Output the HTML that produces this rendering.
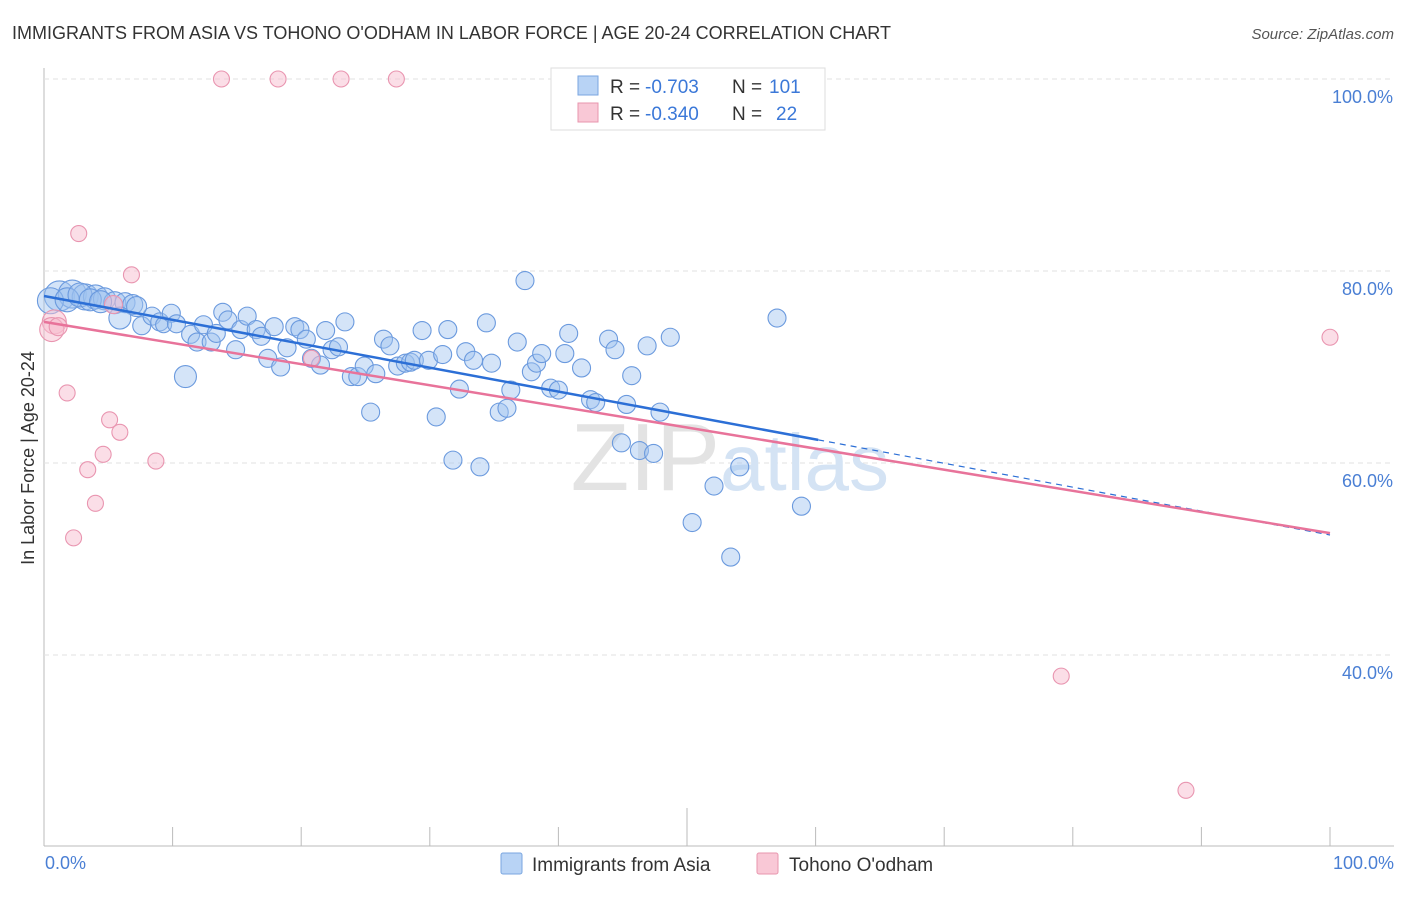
<!DOCTYPE html>
<html><head><meta charset="utf-8"><style>
body{margin:0;background:#fff;font-family:"Liberation Sans",sans-serif}
svg text{font-family:"Liberation Sans",sans-serif}
</style></head><body>
<svg id="chart" width="1406" height="892" xmlns="http://www.w3.org/2000/svg">
<text x="12" y="39" font-size="18" fill="#333">IMMIGRANTS FROM ASIA VS TOHONO O'ODHAM IN LABOR FORCE | AGE 20-24 CORRELATION CHART</text>
<text x="1394" y="39" font-size="15" fill="#555" font-style="italic" text-anchor="end">Source: ZipAtlas.com</text>
<g id="grid"></g>
<text x="720" y="490" font-size="96" fill="#e3e3e3" font-family="Liberation Serif" text-anchor="end">ZIP</text>
<text x="720" y="490" font-size="80" fill="#d4e3f4">atlas</text>
<g id="pts"></g>
<g id="lines"></g>
<text x="34" y="458" font-size="18" fill="#333" text-anchor="middle" transform="rotate(-90 34 458)">In Labor Force | Age 20-24</text>
<text x="45" y="869" font-size="18" fill="#4a7fd4">0.0%</text>
<text x="1394" y="869" font-size="18" fill="#4a7fd4" text-anchor="end">100.0%</text>
<g>
<rect x="551" y="68" width="274" height="62" fill="#fff" stroke="#ddd"/>
<rect x="578" y="76" width="20" height="19" fill="#b8d3f5" stroke="#7aa6e0"/>
<text x="610" y="93" font-size="19" fill="#333">R =</text>
<text x="645" y="93" font-size="19" fill="#3b78d8">-0.703</text>
<text x="732" y="93" font-size="19" fill="#333">N =</text>
<text x="769" y="93" font-size="19" fill="#3b78d8">101</text>
<rect x="578" y="103" width="20" height="19" fill="#f9c8d6" stroke="#e896ae"/>
<text x="610" y="120" font-size="19" fill="#333">R =</text>
<text x="645" y="120" font-size="19" fill="#3b78d8">-0.340</text>
<text x="732" y="120" font-size="19" fill="#333">N =</text>
<text x="776" y="120" font-size="19" fill="#3b78d8">22</text>
</g>
<g>
<rect x="501" y="853" width="21" height="21" fill="#b8d3f5" stroke="#7aa6e0" rx="2"/>
<text x="532" y="871" font-size="19" fill="#333">Immigrants from Asia</text>
<rect x="757" y="853" width="21" height="21" fill="#f9c8d6" stroke="#e896ae" rx="2"/>
<text x="789" y="871" font-size="19" fill="#333">Tohono O'odham</text>
</g>
</svg>
<script>
const yTicks=[100,80,60,40];
const yTickLabels=["100.0%","80.0%","60.0%","40.0%"];
const xTicks=[0,10,20,30,40,50,60,70,80,90,100];
const blueX=[1.2,2.2,3.2,4.0,4.7,5.5,6.3,6.9,5.9,7.6,8.4,9.0,9.3,9.9,10.3,11.0,11.4,11.9,12.4,13.0,13.4,13.9,14.3,14.9,15.3,15.8,16.5,16.9,17.4,17.9,18.4,18.9,19.5,19.9,20.4,20.8,21.5,21.9,22.4,22.9,23.4,23.9,24.4,24.9,25.4,25.8,26.4,26.9,27.5,28.1,28.5,28.8,29.4,29.9,30.5,31.0,31.4,31.8,32.3,32.8,33.4,33.9,34.4,34.8,35.4,36.0,36.3,36.8,37.4,37.9,38.3,38.7,39.4,40.0,40.5,40.8,41.8,42.5,42.9,43.9,44.4,44.9,45.3,45.7,46.3,46.9,47.4,47.9,48.7,50.4,52.1,53.4,54.1,57.0,58.9,0.5,1.8,2.8,3.6,4.4,7.2];
const blueY=[77.4,77.6,77.3,77.3,77.1,76.7,76.7,76.5,75.1,74.3,75.3,74.7,74.4,75.6,74.5,69.0,73.4,72.6,74.4,72.6,73.5,75.7,74.9,71.8,73.9,75.3,73.9,73.2,70.9,74.2,70.0,72.0,74.2,73.9,72.9,70.9,70.2,73.8,71.8,72.1,74.7,69.0,69.0,70.1,65.3,69.3,72.9,72.2,70.1,70.4,70.5,70.7,73.8,70.7,64.8,71.3,73.9,60.3,67.7,71.6,70.7,59.6,74.6,70.4,65.3,65.7,67.6,72.6,79.0,69.5,70.4,71.4,67.8,67.6,71.4,73.5,69.9,66.6,66.3,72.9,71.8,62.1,66.1,69.1,61.3,72.2,61.0,65.3,73.1,53.8,57.6,50.2,59.6,75.1,55.5,76.9,77.0,77.5,77.0,76.8,76.3];
const blueR=[15,14,13,12,11,11,10,10,11,9,9,9,8,9,9,11,9,9,9,9,9,9,9,9,9,9,9,9,9,9,9,9,9,9,9,9,9,9,9,9,9,9,9,9,9,9,9,9,9,9,9,9,9,9,9,9,9,9,9,9,9,9,9,9,9,9,9,9,9,9,9,9,9,9,9,9,9,9,9,9,9,9,9,9,9,9,9,9,9,9,9,9,9,9,9,13,12,12,11,11,10];
const pinkX=[13.8,18.2,23.1,27.4,2.7,6.8,0.8,0.6,1.1,1.8,5.1,5.9,4.6,3.4,8.7,4.0,2.3,5.4,20.8,100,79.1,88.8];
const pinkY=[100,100,100,100,83.9,79.6,74.7,73.9,74.2,67.3,64.5,63.2,60.9,59.3,60.2,55.8,52.2,76.5,70.9,73.1,37.8,25.9];
const pinkR=[8,8,8,8,8,8,12,12,9,8,8,8,8,8,8,8,8,9,8,8,8,8];
const blueTrend=[77.4,-0.249];
const pinkTrend=[74.7,-0.22];
const blueSolidEnd=[60.2];

const X=v=>44+v*12.86, Y=v=>1039-v*9.6;
const NS="http://www.w3.org/2000/svg";
function mk(t,a,p){const e=document.createElementNS(NS,t);for(const k in a)e.setAttribute(k,a[k]);p.appendChild(e);return e;}
const grid=document.getElementById('grid');
const ax=mk('line',{x1:44,y1:68,x2:44,y2:846,stroke:'#bbb'},grid);


const bx=mk('line',{x1:44,y1:846,x2:1394,y2:846,stroke:'#bbb'},grid);


yTicks.forEach((t,i)=>{
 const g=mk('line',{x1:44,x2:1394,y1:Y(t),y2:Y(t),stroke:'#e2e2e2','stroke-dasharray':'5,4'},grid);
 
 
 const l=mk('text',{x:1393,y:Y(t)+24,'font-size':18,fill:'#4a7fd4','text-anchor':'end'},grid);
 l.textContent=yTickLabels[i];
 
 
});
xTicks.forEach(t=>{
 if(t===0)return;
 const tk=mk('line',{x1:X(t),x2:X(t),y1:t===50?808:827,y2:846,stroke:'#bbb'},grid);
 
 
});
const pts=document.getElementById('pts');
blueX.forEach((v,i)=>{
 const c=mk('circle',{cx:X(v),cy:Y(blueY[i]),r:blueR[i],fill:'rgba(160,196,240,0.45)',stroke:'#6b9ade','stroke-width':1.1},pts);
 
 
});
pinkX.forEach((v,i)=>{
 const c=mk('circle',{cx:X(v),cy:Y(pinkY[i]),r:pinkR[i],fill:'rgba(248,190,208,0.5)',stroke:'#e995b0','stroke-width':1.1},pts);
 
 
});
const lines=document.getElementById('lines');
const f=(tr,x)=>tr[0]+tr[1]*x;
const b1=mk('line',{x1:X(0),y1:Y(f(blueTrend,0)),x2:X(blueSolidEnd[0]),y2:Y(f(blueTrend,blueSolidEnd[0])),stroke:'#2c6fd6','stroke-width':2.5},lines);


const b2=mk('line',{x1:X(blueSolidEnd[0]),y1:Y(f(blueTrend,blueSolidEnd[0])),x2:X(100),y2:Y(f(blueTrend,100)),stroke:'#2c6fd6','stroke-width':1.2,'stroke-dasharray':'6,5'},lines);


const p1=mk('line',{x1:X(0),y1:Y(f(pinkTrend,0)),x2:X(100),y2:Y(f(pinkTrend,100)),stroke:'#e8739a','stroke-width':2.5},lines);


</script>
</body></html>
